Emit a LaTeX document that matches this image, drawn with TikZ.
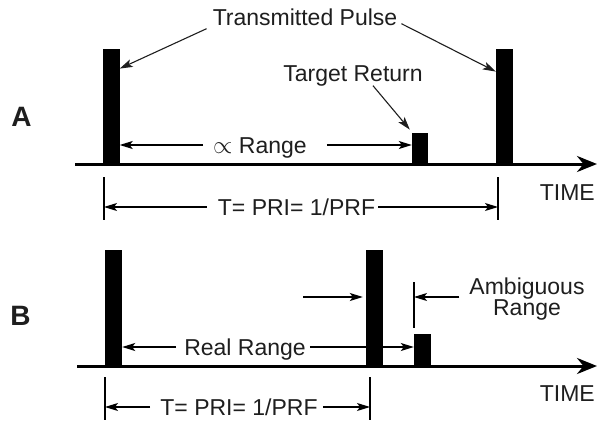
\documentclass[tikz,border=0pt]{standalone}
\usepackage{fontspec}
\setmainfont{Liberation Sans}
\usetikzlibrary{arrows.meta,positioning}
\definecolor{ink}{HTML}{1E1E1E}
\tikzset{
  timeaxis/.style={-{Stealth[length=20pt,width=16pt]}, line width=3pt},
  pulse/.style={fill=black, inner sep=0pt, minimum width=17pt, anchor=south},
  dimarr/.style={-{Stealth[length=13pt,width=8pt,inset=3pt]}, line width=1.2pt},
  pointer/.style={-{Stealth[length=13pt,width=8pt,inset=3pt]}, line width=1.1pt, ink},
  tick/.style={line width=1.2pt},
  lab/.style={font=\fontsize{23}{24}\selectfont, text=ink, inner sep=2pt,
              text height=17pt, text depth=0pt},
  labtwo/.style={font=\fontsize{23}{20}\selectfont, text=ink, inner sep=2pt, align=center},
  panel/.style={font=\fontsize{28}{28}\selectfont\bfseries, text=ink},
}

\begin{document}
\begin{tikzpicture}[x=1pt,y=-1pt]
\useasboundingbox (0,0) rectangle (597,423);

% ===================== trace A: unambiguous return ========================
\draw[timeaxis] (75,164) -- (597,164);
\node[panel] (labA) at (21.5,117) {A};
\node[pulse, minimum height=115pt] (pA1) at (111,164) {};
\node[pulse, minimum height=31pt, minimum width=16pt] (tA) at (420,164) {};
\node[pulse, minimum height=115pt] (pA2) at (504.5,164) {};
% labels and pointers
\node[lab] (txA) at (305,17) {Transmitted Pulse};
\node[lab] (trA) at (353,73) {Target Return};
\node[lab] (rgA) at (260,145) {$\propto$ Range};
\draw[pointer] ([xshift=-4pt,yshift=-1pt]txA.south west) -- ([yshift=-20pt]pA1.north east);
\draw[pointer] ([xshift=2pt,yshift=4pt]txA.south east) -- ([yshift=-23pt]pA2.north west);
\draw[pointer] ([xshift=20pt,yshift=-2pt]trA.south) -- ([xshift=-2pt,yshift=3pt]tA.north west);
\draw[dimarr] ([xshift=-8pt]rgA.west) -- (pA1.east |- rgA.west);
\draw[dimarr] ([xshift=18pt]rgA.east) -- (tA.west |- rgA.east);
% PRI dimension
\coordinate (kA1) at (104,177);
\coordinate (kA2) at (498,177);
\draw[tick] (kA1) -- ++(0,43);
\draw[tick] (kA2) -- ++(0,43);
\node[lab] (priA) at (296.5,207) {T= PRI= 1/PRF};
\draw[dimarr] ([xshift=-9pt]priA.west) -- (kA1 |- priA.west);
\draw[dimarr] ([xshift=1pt]priA.east) -- (kA2 |- priA.east);
\node[lab, anchor=east] (tmA) at (597,192) {TIME};

% ===================== trace B: ambiguous return ==========================
\draw[timeaxis] (77,366) -- (597,366);
\node[panel] (labB) at (20.5,316) {B};
\node[pulse, minimum height=116pt] (pB1) at (113.5,366) {};
\node[pulse, minimum height=116pt] (pB2) at (374.5,366) {};
\node[pulse, minimum height=32pt] (rB) at (422.5,366) {};
% real range
\node[lab] (rrB) at (245,347) {Real Range};
\draw[dimarr] ([xshift=-6pt]rrB.west) -- (pB1.east |- rrB.west);
\draw[dimarr] ([xshift=2pt]rrB.east) -- (rB.west |- rrB.east);
% ambiguous range
\node[labtwo] (amb) at (527,299) {Ambiguous\\Range};
\coordinate (ambL) at (303,297);
\coordinate (ambR) at ([xshift=-8pt,yshift=2pt]amb.west);
\coordinate (kB3) at (414,282);
\draw[tick] (kB3) -- ++(0,46);
\draw[dimarr, shorten >=3pt] (ambL) -- (pB2.west |- ambL);
\draw[dimarr] (ambR) -- (kB3 |- ambR);
% PRI dimension
\coordinate (kB1) at (105,377);
\coordinate (kB2) at (370,377);
\draw[tick] (kB1) -- ++(0,43);
\draw[tick] (kB2) -- ++(0,43);
\node[lab] (priB) at (239,407) {T= PRI= 1/PRF};
\draw[dimarr] ([xshift=-8pt]priB.west) -- (kB1 |- priB.west);
\draw[dimarr] ([xshift=3pt]priB.east) -- (kB2 |- priB.east);
\node[lab, anchor=east] (tmB) at (597,393) {TIME};

\end{tikzpicture}
\end{document}
